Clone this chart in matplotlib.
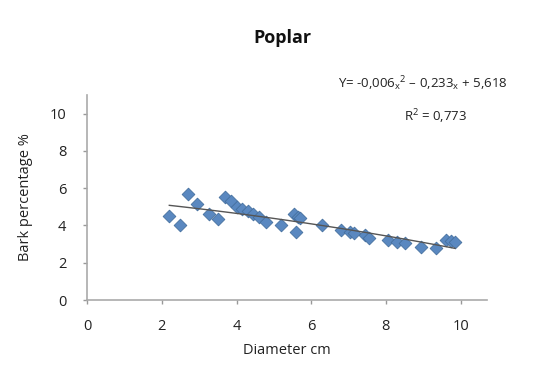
import numpy as np
import matplotlib.pyplot as plt

# ---------------------------------------------------------------------------
# Data
# ---------------------------------------------------------------------------
diameter = [2.2, 2.5, 2.7, 2.95, 3.25, 3.5, 3.7, 3.85, 4.0, 4.15, 4.3, 4.45,
            4.6, 4.8, 5.2, 5.55, 5.6, 5.65, 5.7, 6.3, 6.8, 7.05, 7.15, 7.45,
            7.55, 8.05, 8.3, 8.5, 8.95, 9.35, 9.6, 9.75, 9.85]
bark_pct = [4.5, 4.0, 5.7, 5.15, 4.6, 4.35, 5.5, 5.3, 5.0, 4.9, 4.75, 4.6,
            4.45, 4.2, 4.0, 4.6, 3.65, 4.45, 4.4, 4.0, 3.75, 3.65, 3.6, 3.5,
            3.35, 3.2, 3.1, 3.05, 2.85, 2.8, 3.2, 3.15, 3.1]

x_ticks = [0, 2, 4, 6, 8, 10]
y_ticks = [0, 2, 4, 6, 8, 10]

equation = r"Y= -0,006$_\mathrm{x}$$^2$ – 0,233$_\mathrm{x}$ + 5,618"
r_squared = r"R$^2$ = 0,773"

plt.rcParams["font.family"] = ["Open Sans", "DejaVu Sans"]
plt.rcParams["mathtext.fontset"] = "custom"
plt.rcParams["mathtext.rm"] = "Open Sans"

fig = plt.figure(figsize=(5.55, 3.65), dpi=100)
ax = fig.add_axes([0.157, 0.178, 0.72, 0.562])

ax.scatter(diameter, bark_pct, marker="D", s=42, color="#5a88c0",
           edgecolors="#46709f", linewidths=0.6, zorder=3)

# second-order trend line fitted to the points
coef = np.polyfit(diameter, bark_pct, 2)
xs = np.linspace(min(diameter), max(diameter), 100)
ax.plot(xs, np.polyval(coef, xs), color="#555555", lw=1.0, zorder=4)

ax.set_xlim(0, 10.7)
ax.set_ylim(0, 11)
ax.set_xticks(x_ticks)
ax.set_yticks(y_ticks)
ax.tick_params(colors="#999999", labelcolor="#222222", labelsize=10.5,
               length=3, width=1)
ax.tick_params(axis="x", pad=11)
ax.tick_params(axis="y", pad=12)

for side in ("top", "right"):
    ax.spines[side].set_visible(False)
for side in ("left", "bottom"):
    ax.spines[side].set_color("#aaaaaa")
    ax.spines[side].set_linewidth(1.2)

ax.set_xlabel("Diameter cm", fontsize=10.5, color="#222222", labelpad=6)
ax.set_ylabel("Bark percentage %", fontsize=10.5, color="#222222", labelpad=12)

fig.text(0.508, 0.895, "Poplar", ha="center", va="center",
         fontsize=13, fontweight="bold", color="#111111")
fig.text(0.762, 0.77, equation, ha="center", va="center", fontsize=9.5,
         color="#222222")
fig.text(0.785, 0.68, r_squared, ha="center", va="center", fontsize=9.5,
         color="#222222")

fig.savefig("out.png", dpi=100, facecolor="white")
